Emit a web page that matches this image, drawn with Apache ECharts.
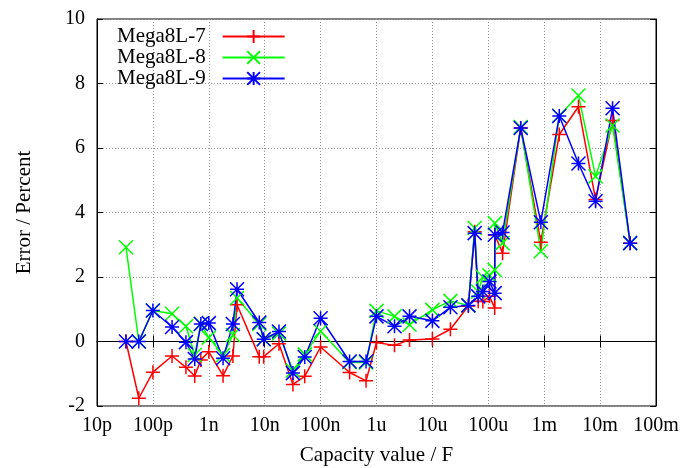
<!DOCTYPE html>
<html>
<head>
<meta charset="utf-8">
<script src="https://cdn.jsdelivr.net/npm/echarts@6/dist/echarts.min.js"></script>
<style>
  html, body { margin: 0; padding: 0; background: #fff; }
  #chart { width: 692px; height: 468px; }
</style>
</head>
<body>
<div id="chart"></div>
<script>
// capacity values (F), shared by all three boards
const capacity = [
  33e-12, 56e-12, 100e-12, 220e-12, 390e-12, 560e-12, 720e-12, 1e-9, 1.8e-9, 2.7e-9,
  3.2e-9, 8e-9, 9.6e-9, 18e-9, 32e-9, 52e-9, 100e-9, 330e-9, 650e-9, 1e-6,
  2.1e-6, 3.9e-6, 10e-6, 21e-6, 44e-6, 57e-6, 66e-6, 80e-6, 105e-6, 130e-6,
  131e-6, 180e-6, 380e-6, 870e-6, 1.86e-3, 4.1e-3, 8.3e-3, 16.7e-3, 34.5e-3
];
const mega7 = [
  0, -1.76, -0.95, -0.45, -0.8, -1.07, -0.57, -0.32, -1.06, -0.45,
  1.14, -0.47, -0.47, -0.07, -1.33, -1.08, -0.17, -0.96, -1.22, -0.03,
  -0.12, 0.05, 0.08, 0.38, 1.1, 3.4, 1.25, 1.24, 1.4, 1.04,
  3.3, 2.74, 6.62, 3.08, 6.42, 7.28, 4.4, 6.85, 3.05
];
const mega8 = [
  2.92, 0, 0.96, 0.86, 0.47, -0.42, 0.55, 0.12, -0.42, 0.2,
  1.35, 0.54, 0.07, 0.25, -0.9, -0.4, 0.32, -0.64, -0.65, 0.95,
  0.78, 0.52, 0.98, 1.26, 1.12, 3.52, 1.55, 2.0, 2.05, 2.22,
  3.67, 3.05, 6.65, 2.8, 7.0, 7.63, 5.12, 6.7, 3.05
];
const mega9 = [
  0, 0, 0.96, 0.45, -0.02, -0.54, 0.54, 0.57, -0.52, 0.54,
  1.62, 0.59, 0.07, 0.31, -0.98, -0.48, 0.72, -0.62, -0.62, 0.78,
  0.47, 0.78, 0.64, 1.06, 1.12, 3.36, 1.4, 1.55, 1.86, 1.5,
  3.31, 3.38, 6.62, 3.7, 6.99, 5.52, 4.35, 7.23, 3.05
];
const siLabels = { '-11': '10p', '-10': '100p', '-9': '1n', '-8': '10n', '-7': '100n',
  '-6': '1u', '-5': '10u', '-4': '100u', '-3': '1m', '-2': '10m', '-1': '100m' };

const FONT = '"Liberation Serif", serif';
const plusPath = 'path://M5,0L5,10M0,5L10,5';
const crossPath = 'path://M0,0L10,10M0,10L10,0';
const starPath = 'path://M5,0L5,10M0,5L10,5M0,0L10,10M0,10L10,0';

function mkSeries(name, values, color, symbol) {
  return {
    name: name,
    type: 'line',
    data: capacity.map((c, i) => [c, values[i]]),
    symbol: symbol,
    symbolSize: 14,
    showAllSymbol: true,
    lineStyle: { color: color, width: 1.5 },
    itemStyle: { color: color, borderColor: color, borderWidth: 1.5 },
    animation: false
  };
}

const chart = echarts.init(document.getElementById('chart'));
const gridLine = { show: true, lineStyle: { color: '#999', type: [1, 2], width: 1 } };
chart.setOption({
  backgroundColor: '#fff',
  animation: false,
  textStyle: { fontFamily: FONT },
  grid: {
    left: 97, right: 36, top: 19, bottom: 62,
    outerBoundsMode: 'none',
    show: true, borderColor: '#000', borderWidth: 1
  },
  legend: {
    orient: 'vertical',
    left: 112,
    top: 21,
    align: 'right',
    itemGap: 0,
    itemWidth: 62,
    itemHeight: 16,
    textStyle: { fontFamily: FONT, fontSize: 21, lineHeight: 20, color: '#000', padding: [0, 12, 0, 0] },
    data: ['Mega8L-7', 'Mega8L-8', 'Mega8L-9']
  },
  xAxis: [{
    type: 'log',
    logBase: 10,
    min: 1e-11,
    max: 0.1,
    interval: 1,
    name: 'Capacity value / F',
    nameLocation: 'middle',
    nameGap: 39,
    nameTextStyle: { fontFamily: FONT, fontSize: 21, color: '#000' },
    axisLine: { lineStyle: { color: '#000' } },
    axisTick: { inside: true, length: 6, lineStyle: { color: '#000' } },
    axisLabel: {
      fontFamily: FONT, fontSize: 20, color: '#000', margin: 10,
      formatter: v => siLabels[String(Math.round(Math.log10(v)))] || ''
    },
    splitLine: gridLine,
    minorTick: { show: false }
  }, {
    type: 'log',
    logBase: 10,
    min: 1e-11,
    max: 0.1,
    interval: 1,
    position: 'top',
    axisLine: { lineStyle: { color: '#000' } },
    axisTick: { inside: true, length: 6, lineStyle: { color: '#000' } },
    axisLabel: { show: false },
    splitLine: { show: false }
  }],
  yAxis: [{
    type: 'value',
    min: -2,
    max: 10,
    interval: 2,
    name: 'Error / Percent',
    nameLocation: 'middle',
    nameGap: 62,
    nameTextStyle: { fontFamily: FONT, fontSize: 21, color: '#000' },
    axisLine: { show: true, lineStyle: { color: '#000' } },
    axisTick: { show: true, inside: true, length: 6, lineStyle: { color: '#000' } },
    axisLabel: { fontFamily: FONT, fontSize: 20, color: '#000', margin: 12 },
    splitLine: gridLine
  }, {
    type: 'value',
    min: -2,
    max: 10,
    interval: 2,
    position: 'right',
    axisLine: { show: true, lineStyle: { color: '#000' } },
    axisTick: { show: true, inside: true, length: 6, lineStyle: { color: '#000' } },
    axisLabel: { show: false },
    splitLine: { show: false }
  }],
  series: [
    mkSeries('Mega8L-7', mega7, '#ff0000', plusPath),
    mkSeries('Mega8L-8', mega8, '#00ff00', crossPath),
    mkSeries('Mega8L-9', mega9, '#0000ff', starPath)
  ]
});
</script>
</body>
</html>
